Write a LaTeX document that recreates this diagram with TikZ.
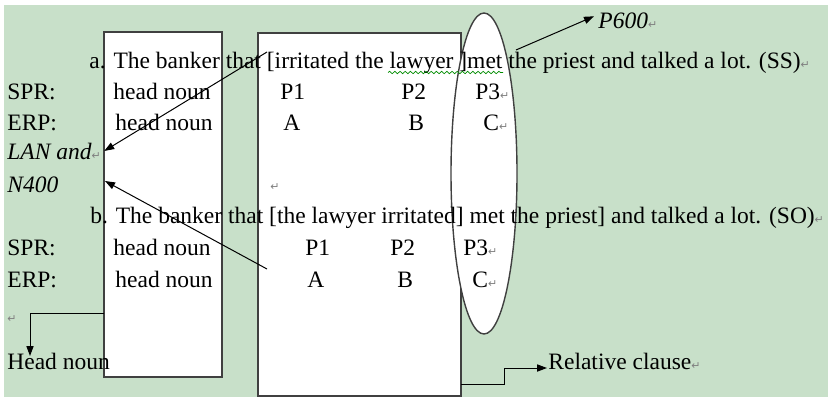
\documentclass[tikz,border=0pt]{standalone}
\usepackage{fontspec}
\setmainfont{Liberation Serif}
\newfontfamily\pmarkfont{DejaVu Sans}
\usetikzlibrary{arrows.meta,decorations.pathmorphing}
\definecolor{pagegreen}{RGB}{200,224,201}
\newcommand{\pmark}{{\pmarkfont\fontsize{5.5}{6}\selectfont\textcolor{gray}{↵}}}
\tikzset{
  txt/.style={anchor=base west,inner sep=0pt,font=\fontsize{11.75}{14}\selectfont},
  ital/.style={anchor=base west,inner sep=0pt,font=\fontsize{11.75}{14}\selectfont\itshape},
  boxline/.style={draw=black!75,fill=white,line width=0.7pt},
  pointer/.style={-{Triangle[length=5pt,width=3.6pt]},line width=0.5pt},
}
\begin{document}
\begin{tikzpicture}[x=0.5pt,y=-0.5pt]
\useasboundingbox (0,0) rectangle (828,397);
\fill[white] (0,0) rectangle (828,397);
\fill[pagegreen] (4,5) rectangle (828,397);

% boxes and the P600 ellipse
\draw[boxline] (104,32) rectangle (222,377);
\draw[boxline] (258,33) rectangle (461,396);
\draw[boxline] (484,173.5) ellipse (33 and 160.5);

% sentence a
\node[txt] (sa) at (89,68) {a. The banker that [irritated the lawyer ]met the priest and talked a lot. (SS)\pmark};
\draw[decorate,decoration={snake,amplitude=0.6pt,segment length=2.6pt},green!55!black,line width=0.35pt] (388,72.5) -- (503,72.5);
\node[txt] (sprA) at (7,99) {SPR:};
\node[txt] (hnsA) at (113,99) {head noun};
\node[txt] (pa1) at (280,99) {P1};
\node[txt] (pa2) at (401,99) {P2};
\node[txt] (pa3) at (475,99) {P3\pmark};
\node[txt] (erpA) at (7,130) {ERP:};
\node[txt] (hneA) at (115,130) {head noun};
\node[txt] (ca1) at (283,130) {A};
\node[txt] (ca2) at (408,130) {B};
\node[txt] (ca3) at (483,130) {C\pmark};
\node[ital] (lan) at (7,159) {LAN and\pmark};
\node[ital] (nfour) at (7,192) {N400};
\node[txt] (gap) at (270,190) {\pmark};

% sentence b
\node[txt] (sb) at (90,223) {b. The banker that [the lawyer irritated] met the priest] and talked a lot. (SO)\pmark};
\node[txt] (sprB) at (7,255) {SPR:};
\node[txt] (hnsB) at (113,255) {head noun};
\node[txt] (pb1) at (305,255) {P1};
\node[txt] (pb2) at (390,255) {P2};
\node[txt] (pb3) at (463,255) {P3\pmark};
\node[txt] (erpB) at (7,287) {ERP:};
\node[txt] (hneB) at (115,287) {head noun};
\node[txt] (cb1) at (307,287) {A};
\node[txt] (cb2) at (397,287) {B};
\node[txt] (cb3) at (472,287) {C\pmark};
\node[txt] (blank) at (7,322) {\pmark};

% labels
\node[ital] (p600) at (598,28) {P600\pmark};
\node[txt] (headnoun) at (7,369) {Head noun};
\node[txt] (relcl) at (548,369) {Relative clause\pmark};

% connector ends
\coordinate (fromA) at (267,52);
\coordinate (fromB) at (267,269);
\coordinate (toN) at (105,181);
\coordinate (fromE) at (516,50);
\coordinate (fromH) at (104,313);
\coordinate (toH) at (30,356);
\coordinate (fromR) at (461,384);
\coordinate (toR) at (547,368);

\draw[pointer] (fromA) -- ([xshift=1.5pt]lan.east);
\draw[pointer] (fromB) -- (toN);
\draw[pointer] (fromE) -- ([xshift=-2pt,yshift=2pt]p600.west);
\draw[pointer] (fromH) -| (toH);
\draw[pointer] (fromR) -- (504,384) -- (504,368) -- (toR);
\end{tikzpicture}
\end{document}
